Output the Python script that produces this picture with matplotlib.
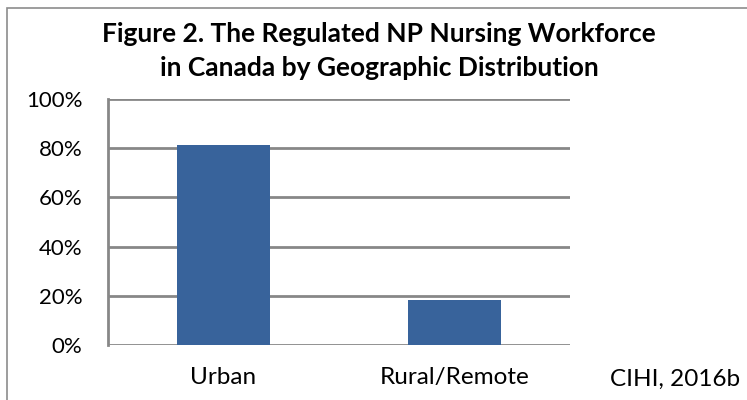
import matplotlib.pyplot as plt
from matplotlib.patches import Rectangle
from matplotlib.ticker import PercentFormatter

categories = ["Urban", "Rural/Remote"]
shares = [81.2, 18.1]
y_ticks = [0, 20, 40, 60, 80, 100]

TITLE = "Figure 2. The Regulated NP Nursing Workforce\nin Canada by Geographic Distribution"
SOURCE = "CIHI, 2016b"

BAR_COLOR = "#38639B"
GRID_COLOR = "#878787"

plt.rcParams["font.family"] = ["Lato", "DejaVu Sans"]

fig = plt.figure(figsize=(7.47, 4.0), dpi=100)
ax = fig.add_axes([0.1446, 0.1375, 0.6185, 0.615])

ax.bar(range(len(categories)), shares, width=0.4, color=BAR_COLOR, zorder=3)

ax.set_xlim(-0.5, 1.5)
ax.set_ylim(0, 100)
ax.set_yticks(y_ticks)
ax.yaxis.set_major_formatter(PercentFormatter(decimals=0))
ax.set_xticks(range(len(categories)))
ax.set_xticklabels(categories)
ax.tick_params(axis="both", length=0, colors="black")
ax.tick_params(axis="y", labelsize=16, pad=18.5)
ax.tick_params(axis="x", labelsize=17.5, pad=16)

ax.grid(axis="y", color=GRID_COLOR, linewidth=2, zorder=0)
ax.set_axisbelow(True)
for side in ["top", "right", "bottom"]:
    ax.spines[side].set_visible(False)
ax.spines["left"].set_color(GRID_COLOR)
ax.spines["left"].set_linewidth(2)

fig.text(379 / 747, 1 - 51 / 400, TITLE, ha="center", va="center",
         fontsize=19, fontweight="bold", linespacing=1.45)
fig.text(675 / 747, 1 - 379 / 400, SOURCE, ha="center", va="center", fontsize=17.5)

# thin frame around the whole chart, as in the original
fig.patches.append(Rectangle((7 / 747, -0.05), 1.1, 1 - 8 / 400 + 0.05,
                             transform=fig.transFigure, fill=False,
                             edgecolor="#8C8C8C", linewidth=1.2))

fig.savefig("out.png", dpi=100)
